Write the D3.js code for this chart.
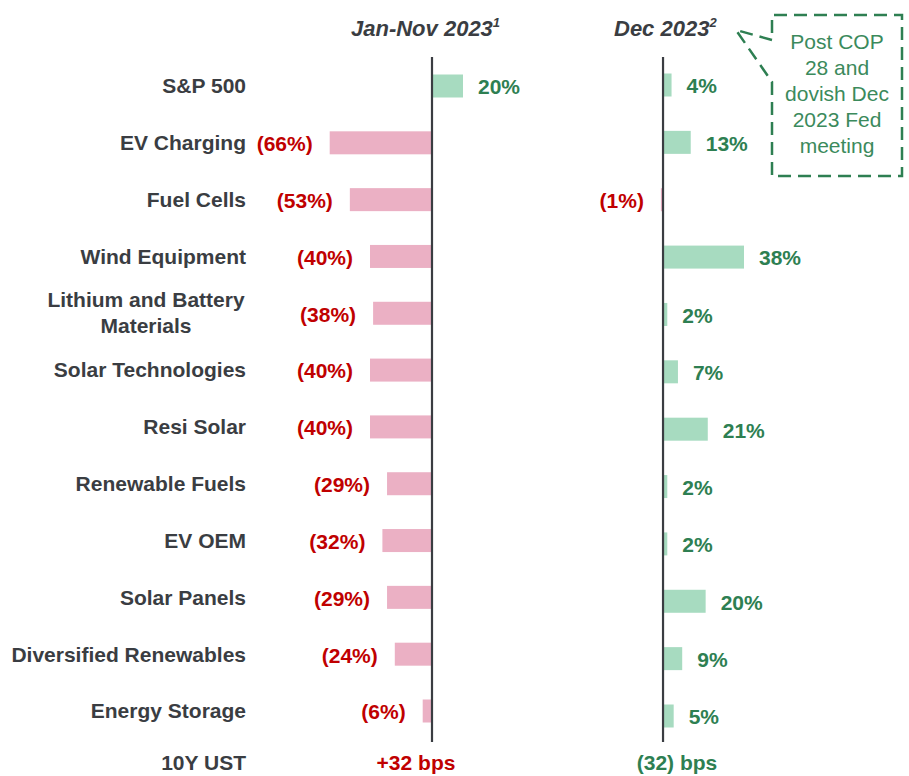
<!DOCTYPE html>
<html>
<head>
<meta charset="utf-8">
<script src="https://cdn.jsdelivr.net/npm/d3@7"></script>
<style>
  body { margin: 0; background: #fff; }
  text { font-family: "Liberation Sans", Arial, sans-serif; }
</style>
</head>
<body>
<script>
const w = 909;
const h = 776;

const categories = ["S&P 500", "EV Charging", "Fuel Cells", "Wind Equipment",
  "Lithium and Battery Materials", "Solar Technologies", "Resi Solar", "Renewable Fuels",
  "EV OEM", "Solar Panels", "Diversified Renewables", "Energy Storage"];
const janNov = [20, -66, -53, -40, -38, -40, -40, -29, -32, -29, -24, -6];
const dec = [4, 13, -1, 38, 2, 7, 21, 2, 2, 20, 9, 5];
const ustLabel = "10Y UST";
const ustJanNov = "+32 bps";
const ustDec = "(32) bps";
const calloutLines = ["Post COP", "28 and", "dovish Dec", "2023 Fed", "meeting"];

const dark = "#3a3d42";
const red = "#c00000";
const green = "#2e7f52";
const pink = "#ebb0c4";
const mint = "#a7dbc0";

const svg = d3.select("body")
              .append("svg")
              .attr("width", w)
              .attr("height", h);

const yLeft = d3.scalePoint().domain(categories).range([86, 711]);
const yRight = d3.scalePoint().domain(categories).range([85, 716]);
const barH = 23;

// separate scales per column, same as the source
const xLeft = d3.scaleLinear().domain([-66, 20]).range([329.7, 463]);
const xRight = d3.scaleLinear().domain([-1, 38]).range([660.9, 744]);

const fmt = (v) => v < 0 ? "(" + Math.abs(v) + "%)" : v + "%";

function column(vals, x, y, key) {
  const g = svg.append("g").attr("class", key);
  const rows = categories.map((c, i) => ({c: c, v: vals[i]}));

  g.selectAll("rect")
    .data(rows)
    .enter()
    .append("rect")
    .attr("x", (d) => Math.min(x(0), x(d.v)))
    .attr("width", (d) => Math.abs(x(d.v) - x(0)))
    .attr("y", (d) => y(d.c) - barH / 2)
    .attr("height", barH)
    .attr("fill", (d) => d.v < 0 ? pink : mint);

  g.selectAll("text")
    .data(rows)
    .enter()
    .append("text")
    .text((d) => fmt(d.v))
    .attr("x", (d) => d.v < 0 ? x(d.v) - 17 : x(d.v) + 15)
    .attr("y", (d) => y(d.c) + 1)
    .attr("dy", "0.35em")
    .attr("text-anchor", (d) => d.v < 0 ? "end" : "start")
    .attr("font-size", 21)
    .attr("font-weight", "bold")
    .attr("fill", (d) => d.v < 0 ? red : green);

  g.append("line")
    .attr("x1", x(0)).attr("x2", x(0))
    .attr("y1", 57).attr("y2", 742)
    .attr("stroke", dark)
    .attr("stroke-width", 2.2);
}

column(janNov, xLeft, yLeft, "jannov");
column(dec, xRight, yRight, "dec");

// category labels
const cats = svg.append("g");
categories.forEach((c, i) => {
  const t = cats.append("text")
    .attr("font-size", 21)
    .attr("font-weight", "bold")
    .attr("fill", dark);
  if (c === "Lithium and Battery Materials") {
    t.attr("text-anchor", "middle").attr("x", 146);
    t.append("tspan").attr("x", 146).attr("y", yLeft(c) - 6).text("Lithium and Battery");
    t.append("tspan").attr("x", 146).attr("y", yLeft(c) + 20).text("Materials");
  } else {
    t.attr("text-anchor", "end")
      .attr("x", 246)
      .attr("y", yLeft(c))
      .attr("dy", "0.35em")
      .text(c);
  }
});

// 10Y UST row
svg.append("text").text(ustLabel)
  .attr("x", 246).attr("y", 770).attr("text-anchor", "end")
  .attr("font-size", 21).attr("font-weight", "bold").attr("fill", dark);
svg.append("text").text(ustJanNov)
  .attr("x", 416).attr("y", 770).attr("text-anchor", "middle")
  .attr("font-size", 21).attr("font-weight", "bold").attr("fill", red);
svg.append("text").text(ustDec)
  .attr("x", 677).attr("y", 770).attr("text-anchor", "middle")
  .attr("font-size", 21).attr("font-weight", "bold").attr("fill", green);

// column headers
function header(x, label, sup) {
  const t = svg.append("text")
    .attr("x", x).attr("y", 36)
    .attr("font-size", 22)
    .attr("font-weight", "bold")
    .attr("font-style", "italic")
    .attr("fill", dark);
  t.append("tspan").text(label);
  t.append("tspan").text(sup).attr("font-size", 13).attr("dy", -9);
}
header(351, "Jan-Nov 2023", "1");
header(614, "Dec 2023", "2");

// callout
svg.append("path")
  .attr("d", "M772,82 L772,176 L902,176 L902,15 L772,15 L772,40 L736,30 Z")
  .attr("fill", "none")
  .attr("stroke", green)
  .attr("stroke-width", 2.5)
  .attr("stroke-dasharray", "13,7");

svg.append("g").selectAll("text")
  .data(calloutLines)
  .enter()
  .append("text")
  .text((d) => d)
  .attr("x", 837)
  .attr("y", (d, i) => 49 + i * 26)
  .attr("text-anchor", "middle")
  .attr("font-size", 21)
  .attr("fill", "#3b8a5c");
</script>
</body>
</html>
